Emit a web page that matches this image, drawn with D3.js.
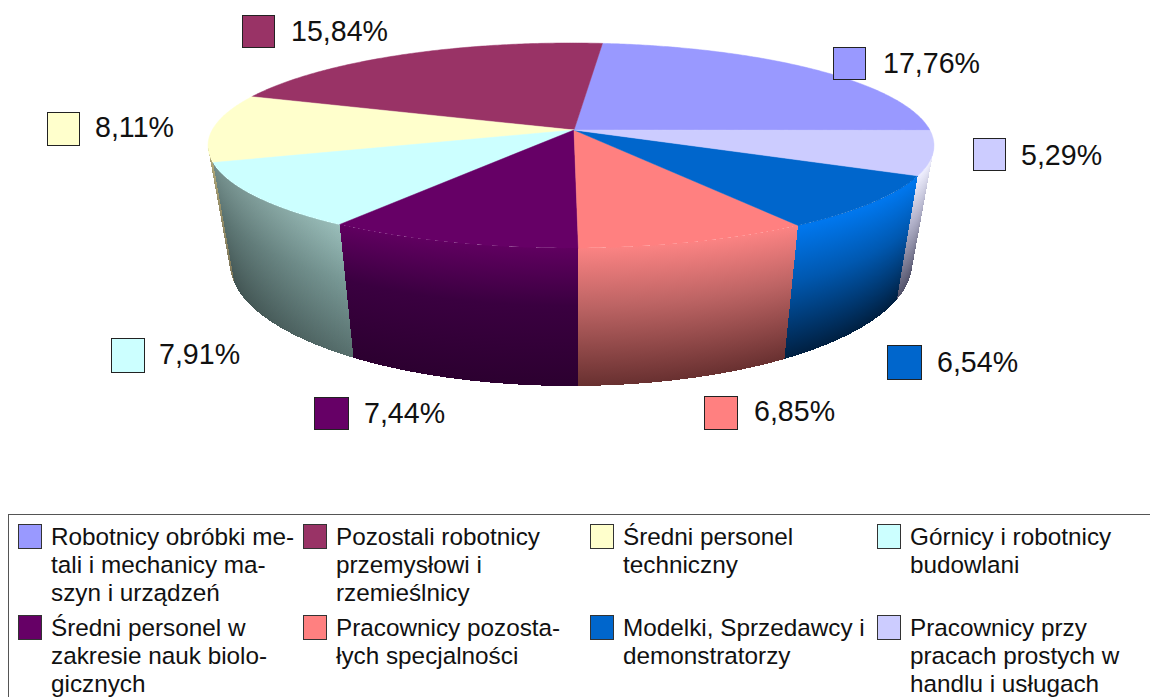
<!DOCTYPE html>
<html lang="pl">
<head>
  <meta charset="UTF-8">
  <title>Pie</title>
</head>
<body>
<style>
  * {
    padding: 0;
    margin: 0;
  }

  body {
    background: #fff;
    overflow: hidden;
  }

  #app svg {
    display: block;
  }

  text {
    font-family: "Liberation Sans", Arial, sans-serif;
    fill: #111;
  }
</style>

<div id="app"></div>

<script src="https://cdn.jsdelivr.net/npm/d3@7"></script>
<script>
  // legend order, the pie runs counter clockwise in this order
  var categories = [
    ['Robotnicy obróbki me-', 'tali i mechanicy ma-', 'szyn i urządzeń'],
    ['Pozostali robotnicy', 'przemysłowi i', 'rzemieślnicy'],
    ['Średni personel', 'techniczny'],
    ['Górnicy i robotnicy', 'budowlani'],
    ['Średni personel w', 'zakresie nauk biolo-', 'gicznych'],
    ['Pracownicy pozosta-', 'łych specjalności'],
    ['Modelki, Sprzedawcy i', 'demonstratorzy'],
    ['Pracownicy przy', 'pracach prostych w', 'handlu i usługach']
  ];
  var values = [17.76, 15.84, 8.11, 7.91, 7.44, 6.85, 6.54, 5.29];
  var valueLabels = ['17,76%', '15,84%', '8,11%', '7,91%', '7,44%', '6,85%', '6,54%', '5,29%'];

  var colors = ['#9999ff', '#993366', '#ffffcc', '#ccffff', '#660066', '#ff8080', '#0066cc', '#ccccff'];
  // side wall gradient: top, middle, bottom
  var wallColors = [
    ['#9999ff', '#7070c0', '#404070'],
    ['#993366', '#702850', '#401830'],
    ['#b0a878', '#98906a', '#80785a'],
    ['#9fc4c0', '#7b9c99', '#566e6c'],
    ['#600060', '#3a0040', '#2c0030'],
    ['#fb8383', '#bd6464', '#683030'],
    ['#0078f0', '#0058b0', '#001f40'],
    ['#f0f0ff', '#b0b0c8', '#505068']
  ];
  // how dark the wall gets at its left end
  var wallShade = [0, 0, 0, 0.28, 0, 0, 0, 0];

  // swatch x, y, w, h and text x, baseline for the value labels
  var labelLayout = [
    [833, 47, 32, 32, 883, 73],
    [242, 15, 32, 32, 291, 41],
    [47, 112, 32, 33, 95, 137],
    [111, 338, 33, 34, 159, 364],
    [314, 397, 34, 32, 364, 423],
    [704, 396, 33, 33, 754, 421],
    [887, 345, 34, 34, 937, 372],
    [973, 138, 32, 32, 1021, 165]
  ];
  var legendCols = [18, 303, 590, 877];
  var legendRows = [525, 616];

  var width = 1150, height = 697;
  var svg = d3.select('#app').append('svg').attr('width', width).attr('height', height);
  var defs = svg.append('defs');

  // perspective of the disc, angle 0 is up and goes clockwise
  var apex = [574, 130], rimX = 571, persp = -0.1512, radX = 358.8, radY = 80.5;

  function rim(a) {
    var u = Math.sin(a), v = -Math.cos(a), w = 1 + persp * v;
    return [rimX + radX * u / w, (apex[1] + radY * v) / w];
  }

  function rimBottom(a) {
    var p = rim(a);
    return [rimX + 0.94 * (p[0] - rimX), 386 + 1.2 * (p[1] - 248)];
  }

  function steps(a0, a1) {
    var n = Math.max(2, Math.ceil(Math.abs(a1 - a0) / 0.01));
    return d3.range(n + 1).map(function (i) { return a0 + (a1 - a0) * i / n; });
  }

  var line = d3.line();
  var arcs = d3.pie().sort(null)
    .startAngle(90.2 * Math.PI / 180)
    .endAngle((90.2 - 360) * Math.PI / 180)(values);

  // the wall is seen between the two side extremes of the ellipse
  var wallFrom = 98.7 * Math.PI / 180, wallTo = 261.3 * Math.PI / 180;

  wallColors.forEach(function (c, i) {
    var g = defs.append('linearGradient').attr('id', 'wall' + i)
      .attr('x1', 0).attr('y1', 0).attr('x2', 0).attr('y2', 1);
    g.append('stop').attr('offset', '0%').attr('stop-color', c[0]);
    g.append('stop').attr('offset', '42%').attr('stop-color', c[1]);
    g.append('stop').attr('offset', '100%').attr('stop-color', c[2]);
  });
  wallShade.forEach(function (s, i) {
    var g = defs.append('linearGradient').attr('id', 'shade' + i);
    g.append('stop').attr('offset', '0%').attr('stop-color', '#000').attr('stop-opacity', s);
    g.append('stop').attr('offset', '100%').attr('stop-color', '#000').attr('stop-opacity', 0);
  });

  var walls = svg.append('g').attr('shape-rendering', 'crispEdges');
  arcs.forEach(function (d, i) {
    // angles go down in d3.pie here, wrap to 0..2PI before clipping
    var hi = d.startAngle, lo = d.endAngle;
    if (lo < 0) { lo += 2 * Math.PI; hi += 2 * Math.PI; }
    var a0 = Math.max(lo, wallFrom), a1 = Math.min(hi, wallTo);
    if (a0 >= a1) return;
    var n = Math.ceil((a1 - a0) / 0.006);
    d3.range(n).forEach(function (k) {
      var s = a0 + (a1 - a0) * k / n, e = a0 + (a1 - a0) * (k + 1) / n;
      var ee = Math.min(a1, e + 0.004);
      walls.append('path')
        .attr('fill', 'url(#wall' + i + ')')
        .attr('d', line([rim(s), rim(ee), rimBottom(ee), rimBottom(s)]) + 'Z');
    });
    if (wallShade[i] > 0) {
      var along = steps(a0, a1);
      walls.append('path')
        .attr('fill', 'url(#shade' + i + ')')
        .attr('d', line(along.map(rim).concat(along.slice().reverse().map(rimBottom))) + 'Z');
    }
  });

  // top of the pie
  svg.append('g').selectAll('path').data(arcs).join('path')
    .attr('fill', function (d, i) { return colors[i]; })
    .attr('stroke', function (d, i) { return colors[i]; })
    .attr('stroke-width', 0.5)
    .attr('d', function (d) {
      return line([apex].concat(steps(d.startAngle, d.endAngle).map(rim))) + 'Z';
    });

  // value labels
  var labels = svg.append('g');
  labelLayout.forEach(function (l, i) {
    labels.append('rect')
      .attr('x', l[0] + 0.5).attr('y', l[1] + 0.5).attr('width', l[2]).attr('height', l[3])
      .attr('fill', colors[i]).attr('stroke', '#222').attr('stroke-width', 1);
    labels.append('text')
      .attr('x', l[4]).attr('y', l[5]).attr('font-size', 28.6).text(valueLabels[i]);
  });

  // legend box, runs off the right and bottom of the picture
  svg.append('rect')
    .attr('x', 8.5).attr('y', 514.5).attr('width', 1200).attr('height', 300)
    .attr('fill', 'none').attr('stroke', '#555').attr('stroke-width', 1);

  var legend = svg.append('g');
  categories.forEach(function (lines, i) {
    var x = legendCols[i % 4], y = legendRows[Math.floor(i / 4)];
    legend.append('rect')
      .attr('x', x + 0.5).attr('y', y - 0.5).attr('width', 23).attr('height', 24)
      .attr('fill', colors[i]).attr('stroke', '#333').attr('stroke-width', 1);
    lines.forEach(function (t, k) {
      legend.append('text')
        .attr('x', x + 33).attr('y', y + 20 + k * 28).attr('font-size', 24.3).text(t);
    });
  });
</script>

</body>
</html>
